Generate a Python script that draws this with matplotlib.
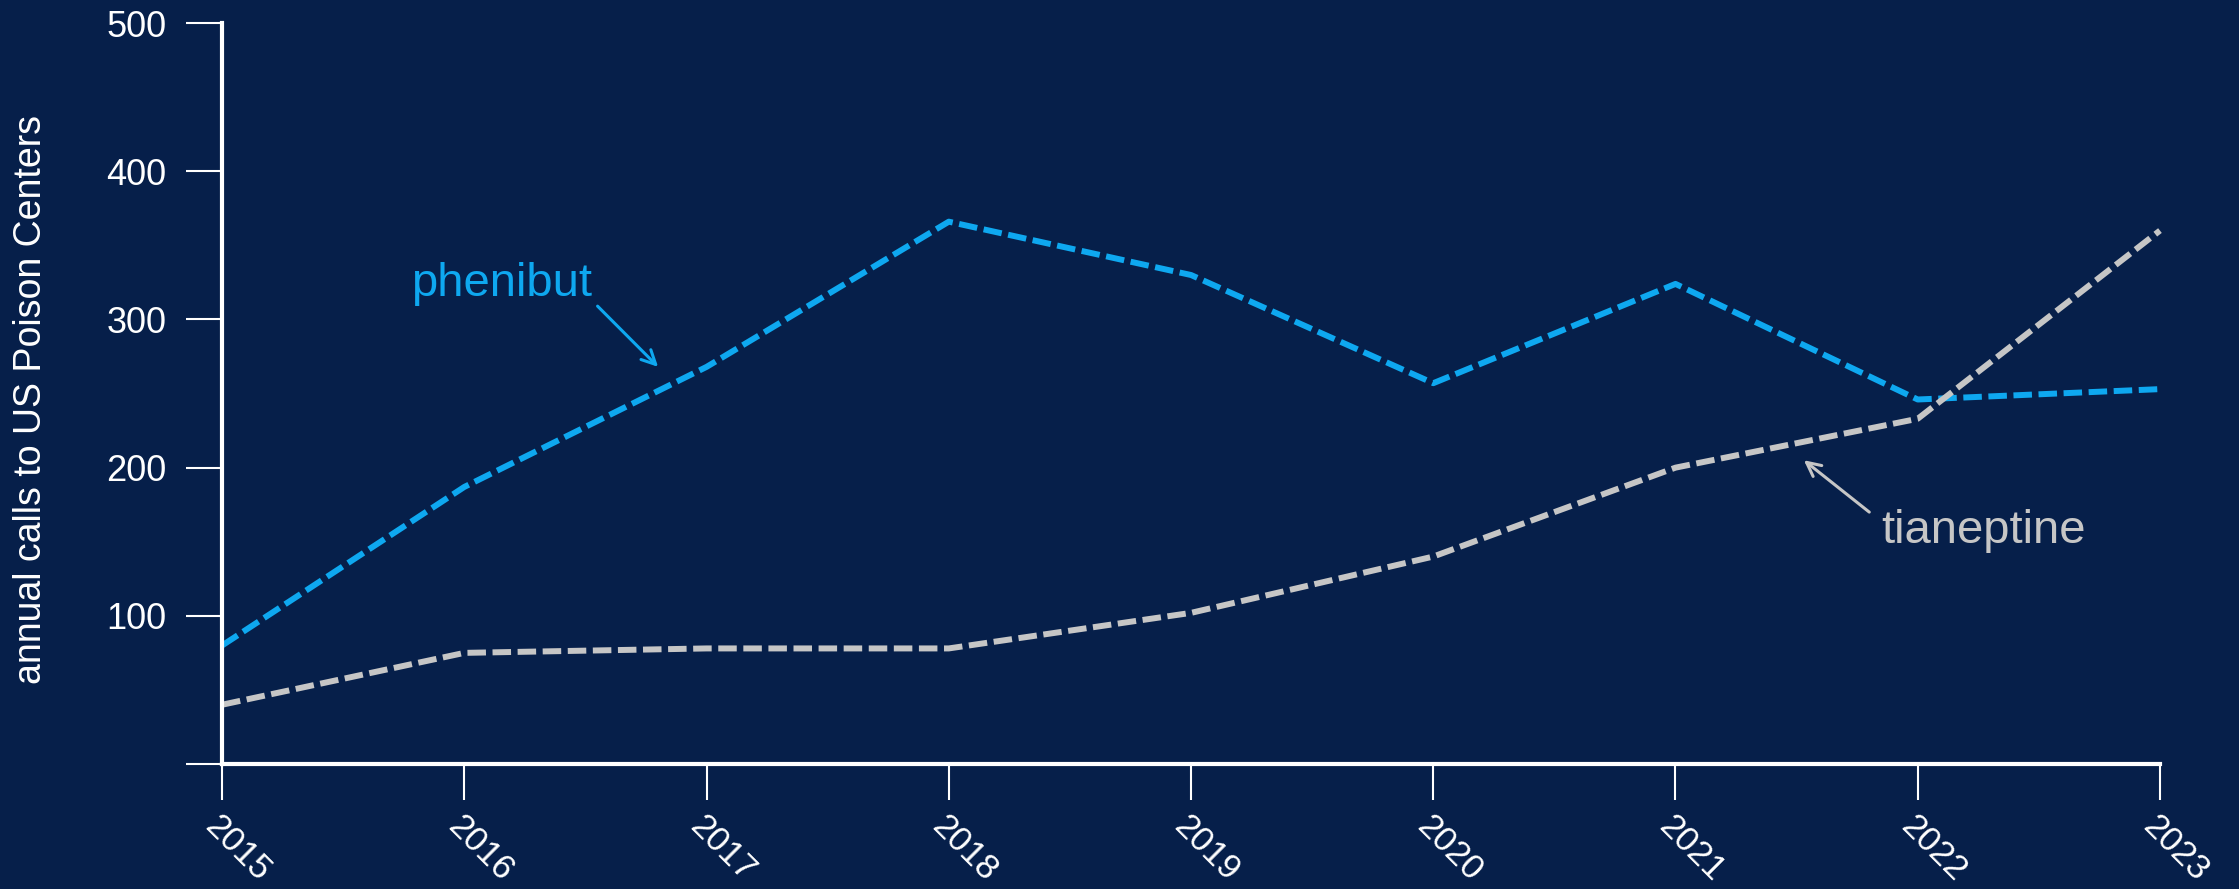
import matplotlib
matplotlib.use('Agg')
from matplotlib import pyplot as plt

# annual calls to US poison centers
years = [2015, 2016, 2017, 2018, 2019, 2020, 2021, 2022, 2023]
phenibut = [80, 187, 268, 366, 330, 257, 324, 246, 253]
tianeptine = [40, 75, 78, 78, 102, 140, 200, 233, 360]
yticks = [0, 100, 200, 300, 400, 500]
ytick_labels = ['', '100', '200', '300', '400', '500']

bg = '#061f4a'
blue = '#0ea8f0'
grey = '#c6c6c6'
fg = 'white'

plt.rcParams['font.family'] = ['Liberation Sans', 'DejaVu Sans']

f = plt.figure(figsize=(22.39, 8.89), dpi=100, facecolor=bg)
ax = f.add_axes([0.0992, 0.1406, 0.8655, 0.8334], facecolor=bg)

# the two series, dashed
dash = (0, (3.1, 1.1))
ax.plot(years, phenibut, color=blue, lw=4.3, ls=dash, clip_on=False)
ax.plot(years, tianeptine, color=grey, lw=4.3, ls=dash, clip_on=False)

ax.set_xlim(years[0], years[-1])
ax.set_ylim(0, 500)
ax.set_yticks(yticks)
ax.set_yticklabels(ytick_labels)
ax.set_xticks(years)
ax.set_xticklabels([str(y) for y in years], rotation=-45, ha='left',
                   va='top', rotation_mode='anchor')

for s in ['top', 'right']:
    ax.spines[s].set_visible(False)
for s in ['left', 'bottom']:
    ax.spines[s].set_color(fg)
    ax.spines[s].set_linewidth(3)
ax.tick_params(colors=fg, length=26, width=1.5, labelsize=26)
ax.tick_params(axis='y', pad=14)
ax.tick_params(axis='x', pad=7, labelsize=25)

f.text(31/2239, 1-400/889, 'annual calls to US Poison Centers', rotation=90,
       ha='center', va='center', color=fg, fontsize=27)

# labels with arrows
ax.text(2015.78, 316, 'phenibut', color=blue, fontsize=34, ha='left', va='baseline')
ax.annotate('', xy=(2016.80, 268), xytext=(2016.55, 309),
            arrowprops=dict(arrowstyle='->', color=blue, lw=2.2,
                            mutation_scale=25, shrinkA=0, shrinkB=0))
ax.text(2021.85, 149, 'tianeptine', color=grey, fontsize=34, ha='left', va='baseline')
ax.annotate('', xy=(2021.53, 205), xytext=(2021.80, 170),
            arrowprops=dict(arrowstyle='->', color=grey, lw=2.2,
                            mutation_scale=25, shrinkA=0, shrinkB=0))

plt.savefig('out.png', dpi=100, facecolor=bg)
plt.close(f)
